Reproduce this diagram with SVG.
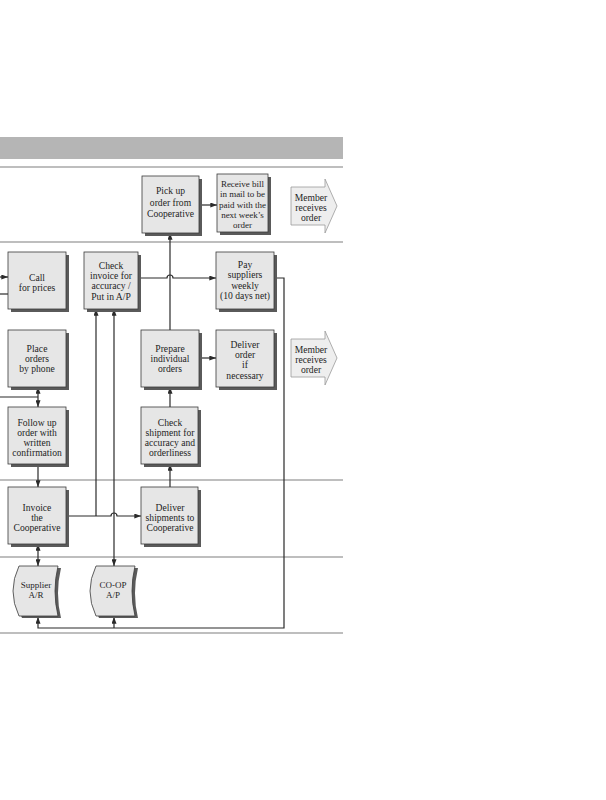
<svg xmlns="http://www.w3.org/2000/svg" width="606" height="800" viewBox="0 0 606 800">
<style>
.bg{fill:#ffffff}
.band{fill:#b5b5b5}
.sep{stroke:#a8a8a8;stroke-width:1.4;fill:none}
.sh{fill:#5a5a5a}
.box{fill:#e6e6e6;stroke:#3a3a3a;stroke-width:0.8}
.fat{fill:#eeeeee;stroke:#9a9a9a;stroke-width:0.8}
.t{font-family:"Liberation Serif","Times New Roman",serif;font-size:9.6px;fill:#1e1e1e;text-anchor:middle}
.s{font-size:9px}
.c{fill:none;stroke:#2a2a2a;stroke-width:1.2}
</style>
<defs>
<marker id="ah" viewBox="0 0 8 6" refX="8" refY="3" markerWidth="7" markerHeight="5" markerUnits="userSpaceOnUse" orient="auto-start-reverse">
<path d="M0,0 L8,3 L0,6 Z" fill="#2a2a2a"/>
</marker>
</defs>
<rect class="bg" x="0" y="0" width="606" height="800"/>
<rect class="band" x="0" y="137" width="343" height="22"/>
<g id="separators">
<line class="sep" x1="0" y1="167" x2="343" y2="167"/>
<line class="sep" x1="0" y1="242" x2="343" y2="242"/>
<line class="sep" x1="0" y1="480" x2="343" y2="480"/>
<line class="sep" x1="0" y1="557" x2="343" y2="557"/>
<line class="sep" x1="0" y1="633" x2="343" y2="633"/>
</g>
<g id="connectors">
<path class="c" d="M0,277 L8,277" marker-end="url(#ah)"/>
<path class="c" d="M0,294 L8,294"/>
<path class="c" d="M0,397 L38,397"/>
<path class="c" d="M38,397 L38,387" marker-end="url(#ah)"/>
<path class="c" d="M38,397 L38,407" marker-end="url(#ah)"/>
<path class="c" d="M38,464 L38,487" marker-end="url(#ah)"/>
<path class="c" d="M38,544 L38,566" marker-start="url(#ah)" marker-end="url(#ah)"/>
<path class="c" d="M66,516 L111,516 A3,3 0 0 1 117,516 L141,516" marker-end="url(#ah)"/>
<path class="c" d="M96,516 L96,309" marker-end="url(#ah)"/>
<path class="c" d="M114,309 L114,566" marker-start="url(#ah)" marker-end="url(#ah)"/>
<path class="c" d="M170,487 L170,464" marker-end="url(#ah)"/>
<path class="c" d="M170,407 L170,387" marker-end="url(#ah)"/>
<path class="c" d="M170,330 L170,233" marker-end="url(#ah)"/>
<path class="c" d="M199,358 L216,358" marker-end="url(#ah)"/>
<path class="c" d="M199,205 L217,205" marker-end="url(#ah)"/>
<path class="c" d="M138,278 L167,278 A3,3 0 0 1 173,278 L216,278" marker-end="url(#ah)"/>
<path class="c" d="M274,278 L284,278 L284,628 L38,628 L38,617" marker-end="url(#ah)"/>
<path class="c" d="M114,628 L114,617" marker-end="url(#ah)"/>
</g>
<g id="pickup">
<rect class="sh" x="145" y="179" width="57" height="57"/>
<rect class="box" x="142" y="176" width="57" height="57"/>
<text class="t" x="170.5" y="194">Pick up</text>
<text class="t" x="170.5" y="205.5">order from</text>
<text class="t" x="170.5" y="217">Cooperative</text>
</g>
<g id="receivebill">
<rect class="sh" x="220" y="177" width="51" height="58"/>
<rect class="box" x="217" y="174" width="51" height="58"/>
<text class="t s" x="242.5" y="186.5">Receive bill</text>
<text class="t s" x="242.5" y="197">in mail to be</text>
<text class="t s" x="242.5" y="207.5">paid with the</text>
<text class="t s" x="242.5" y="218">next week’s</text>
<text class="t s" x="242.5" y="228">order</text>
</g>
<g id="member1">
<path class="fat" d="M291,187 L325,187 L325,179 L337,206 L325,233 L325,225 L291,225 Z"/>
<text class="t" x="311" y="200.5">Member</text>
<text class="t" x="311" y="210.5">receives</text>
<text class="t" x="311" y="220.5">order</text>
</g>
<g id="callprices">
<rect class="sh" x="11" y="255" width="58" height="57"/>
<rect class="box" x="8" y="252" width="58" height="57"/>
<text class="t" x="37" y="280.5">Call</text>
<text class="t" x="37" y="291">for prices</text>
</g>
<g id="checkinvoice">
<rect class="sh" x="87" y="255" width="54" height="57"/>
<rect class="box" x="84" y="252" width="54" height="57"/>
<text class="t" x="111" y="268.5">Check</text>
<text class="t" x="111" y="279">invoice for</text>
<text class="t" x="111" y="289">accuracy /</text>
<text class="t" x="111" y="299.5">Put in A/P</text>
</g>
<g id="paysuppliers">
<rect class="sh" x="219" y="255" width="58" height="57"/>
<rect class="box" x="216" y="252" width="58" height="57"/>
<text class="t" x="245" y="267.5">Pay</text>
<text class="t" x="245" y="278">suppliers</text>
<text class="t" x="245" y="288.5">weekly</text>
<text class="t" x="245" y="298.5">(10 days net)</text>
</g>
<g id="placeorders">
<rect class="sh" x="11" y="333" width="58" height="57"/>
<rect class="box" x="8" y="330" width="58" height="57"/>
<text class="t" x="37" y="351.5">Place</text>
<text class="t" x="37" y="361.5">orders</text>
<text class="t" x="37" y="371.5">by phone</text>
</g>
<g id="prepare">
<rect class="sh" x="144" y="333" width="58" height="57"/>
<rect class="box" x="141" y="330" width="58" height="57"/>
<text class="t" x="170" y="351.5">Prepare</text>
<text class="t" x="170" y="361.5">individual</text>
<text class="t" x="170" y="371.5">orders</text>
</g>
<g id="deliverorder">
<rect class="sh" x="219" y="333" width="58" height="57"/>
<rect class="box" x="216" y="330" width="58" height="57"/>
<text class="t" x="245" y="347.5">Deliver</text>
<text class="t" x="245" y="357.5">order</text>
<text class="t" x="245" y="368">if</text>
<text class="t" x="245" y="378.5">necessary</text>
</g>
<g id="member2">
<path class="fat" d="M291,339 L325,339 L325,331 L337,358 L325,385 L325,377 L291,377 Z"/>
<text class="t" x="311" y="353">Member</text>
<text class="t" x="311" y="363">receives</text>
<text class="t" x="311" y="373">order</text>
</g>
<g id="followup">
<rect class="sh" x="11" y="410" width="58" height="57"/>
<rect class="box" x="8" y="407" width="58" height="57"/>
<text class="t" x="37" y="425.5">Follow up</text>
<text class="t" x="37" y="435.5">order with</text>
<text class="t" x="37" y="445.5">written</text>
<text class="t" x="37" y="455.5">confirmation</text>
</g>
<g id="checkshipment">
<rect class="sh" x="144" y="410" width="57" height="57"/>
<rect class="box" x="141" y="407" width="57" height="57"/>
<text class="t" x="170" y="425.5">Check</text>
<text class="t" x="170" y="435.5">shipment for</text>
<text class="t" x="170" y="445.5">accuracy and</text>
<text class="t" x="170" y="455.5">orderliness</text>
</g>
<g id="invoice">
<rect class="sh" x="11" y="490" width="58" height="57"/>
<rect class="box" x="8" y="487" width="58" height="57"/>
<text class="t" x="37" y="510.5">Invoice</text>
<text class="t" x="37" y="520.5">the</text>
<text class="t" x="37" y="530.5">Cooperative</text>
</g>
<g id="delivershipments">
<rect class="sh" x="144" y="490" width="57" height="57"/>
<rect class="box" x="141" y="487" width="57" height="57"/>
<text class="t" x="170" y="510.5">Deliver</text>
<text class="t" x="170" y="520.5">shipments to</text>
<text class="t" x="170" y="530.5">Cooperative</text>
</g>
<g id="supplierar">
<path class="sh" d="M22,568 L61,568 Q55,593 61,618 L22,618 Q10,593 22,568 Z"/>
<path class="box" d="M19,566 L58,566 Q52,591 58,616 L19,616 Q7,591 19,566 Z"/>
<text class="t s" x="36" y="588">Supplier</text>
<text class="t s" x="36" y="598">A/R</text>
</g>
<g id="coopap">
<path class="sh" d="M99,568 L138,568 Q132,593 138,618 L99,618 Q87,593 99,568 Z"/>
<path class="box" d="M96,566 L135,566 Q129,591 135,616 L96,616 Q84,591 96,566 Z"/>
<text class="t s" x="113" y="588">CO-OP</text>
<text class="t s" x="113" y="598">A/P</text>
</g>
</svg>
